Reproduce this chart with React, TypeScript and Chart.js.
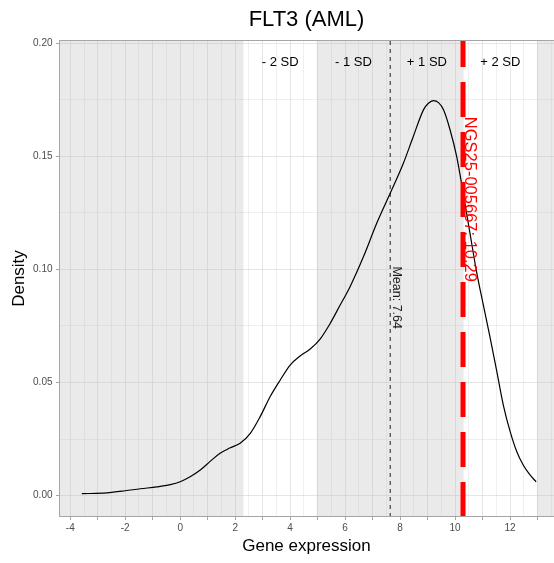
import React, { useEffect, useRef } from 'react';
import { Chart, registerables } from 'chart.js';

Chart.register(...registerables);

// ---- data ----
const densityX = [
  -3.58, -2.67, -2.0, -1.45, -0.85, -0.36, 0, 0.36, 0.73, 1.1, 1.45, 1.8, 2.18, 2.55, 2.91,
  3.27, 3.64, 4.0, 4.36, 4.73, 5.09, 5.45, 5.8, 6.18, 6.67, 7.15, 7.64, 8.12, 8.48, 8.85,
  9.03, 9.21, 9.4, 9.58, 9.82, 10.06, 10.3, 10.55, 10.79, 11.03, 11.27, 11.52, 11.76, 12.0,
  12.24, 12.48, 12.72, 12.95,
];
const densityY = [
  0.0008, 0.0012, 0.0021, 0.003, 0.0038, 0.0048, 0.0061, 0.0083, 0.0113, 0.0152, 0.0187,
  0.021, 0.0231, 0.0275, 0.0349, 0.0437, 0.0511, 0.0577, 0.0617, 0.0648, 0.0692, 0.076,
  0.0838, 0.0924, 0.1057, 0.1204, 0.1337, 0.147, 0.1588, 0.1706, 0.1735, 0.1747, 0.1738,
  0.1706, 0.1617, 0.1499, 0.1335, 0.1155, 0.0985, 0.0842, 0.0702, 0.0548, 0.0398, 0.0285,
  0.0196, 0.0135, 0.0092, 0.0061,
];

const meanValue = 7.64;
const sdValue = 2.67;
const sampleValue = 10.29;
const meanLabel = 'Mean: 7.64';
const sampleLabel = 'NGS25-005667: 10.29';
const sdLabels = ['- 2 SD', '- 1 SD', '+ 1 SD', '+ 2 SD'];
const sdLabelOffsets = [-1.5, -0.5, 0.5, 1.5];
const greyBandsSd = [
  [-Infinity, -2],
  [-1, 1],
  [2, Infinity],
];

const xMajorBreaks = [-4, -3, -2, -1, 0, 1, 2, 3, 4, 5, 6, 7, 8, 9, 10, 11, 12, 13];
const xMinorBreaks = [-3.5, -2.5, -1.5, -0.5, 0.5, 1.5, 2.5, 3.5, 4.5, 5.5, 6.5, 7.5, 8.5, 9.5, 10.5, 11.5, 12.5, 13.5];
const xLabelValues = [-4, -2, 0, 2, 4, 6, 8, 10, 12];
const yMajorBreaks = [0, 0.05, 0.1, 0.15, 0.2];
const yTickLabels = ['0.00', '0.05', '0.10', '0.15', '0.20'];
const yMinorBreaks = [0.025, 0.075, 0.125, 0.175];

const chartTitle = 'FLT3 (AML)';
const xTitle = 'Gene expression';
const yTitle = 'Density';

const xMin = -4.41;
const xMax = 13.6;
const yMin = -0.0095;
const yMax = 0.2015;

const FONT = '"Liberation Sans", Arial, Helvetica, sans-serif';

const isMember = (arr: number[], v: number) => arr.some((a) => Math.abs(a - v) < 1e-9);

const annotationPlugin = {
  id: 'annotations',
  beforeDatasetsDraw(chart: any) {
    const { ctx, chartArea: a, scales } = chart;
    const x = scales.x;
    ctx.save();
    ctx.beginPath();
    ctx.rect(a.left, a.top, a.right - a.left, a.bottom - a.top);
    ctx.clip();
    ctx.fillStyle = 'rgba(185,185,185,0.3)';
    for (const [s0, s1] of greyBandsSd) {
      const p0 = isFinite(s0) ? x.getPixelForValue(meanValue + s0 * sdValue) : a.left;
      const p1 = isFinite(s1) ? x.getPixelForValue(meanValue + s1 * sdValue) : a.right;
      ctx.fillRect(p0, a.top, p1 - p0, a.bottom - a.top);
    }
    // mean line
    const mx = x.getPixelForValue(meanValue);
    ctx.strokeStyle = '#222';
    ctx.lineWidth = 1;
    ctx.setLineDash([4, 4]);
    ctx.beginPath();
    ctx.moveTo(mx, a.bottom);
    ctx.lineTo(mx, a.top);
    ctx.stroke();
    ctx.restore();
  },
  afterDatasetsDraw(chart: any) {
    const { ctx, chartArea: a, scales } = chart;
    const x = scales.x;
    const y = scales.y;
    ctx.save();
    ctx.beginPath();
    ctx.rect(a.left, a.top, a.right - a.left, a.bottom - a.top);
    ctx.clip();
    // sample line
    const sx = x.getPixelForValue(sampleValue);
    ctx.strokeStyle = '#FF0000';
    ctx.lineWidth = 5;
    ctx.lineCap = 'butt';
    ctx.setLineDash([35, 15]);
    ctx.beginPath();
    ctx.moveTo(sx, a.bottom);
    ctx.lineTo(sx, a.top);
    ctx.stroke();
    ctx.setLineDash([]);

    // SD labels
    ctx.fillStyle = '#000';
    ctx.font = `13px ${FONT}`;
    ctx.textAlign = 'center';
    ctx.textBaseline = 'alphabetic';
    sdLabels.forEach((lab, i) => {
      const px = x.getPixelForValue(meanValue + sdLabelOffsets[i] * sdValue);
      ctx.fillText(lab, px, y.getPixelForValue(0.19));
    });

    // Mean label (rotated)
    const mx = x.getPixelForValue(meanValue);
    ctx.save();
    ctx.translate(mx + 3, y.getPixelForValue(0.0875));
    ctx.rotate(Math.PI / 2);
    ctx.font = `12.5px ${FONT}`;
    ctx.fillStyle = '#1a1a1a';
    ctx.textAlign = 'center';
    ctx.fillText(meanLabel, 0, 0);
    ctx.restore();

    // Sample label (rotated)
    ctx.save();
    ctx.translate(sx + 1.5, y.getPixelForValue(0.131));
    ctx.rotate(Math.PI / 2);
    ctx.font = `16.5px ${FONT}`;
    ctx.fillStyle = '#FF0000';
    ctx.textAlign = 'center';
    ctx.fillText(sampleLabel, 0, 0);
    ctx.restore();
    ctx.restore();

    // panel border
    ctx.save();
    ctx.strokeStyle = '#A6A6A6';
    ctx.lineWidth = 1;
    ctx.strokeRect(a.left + 0.5, a.top + 0.5, a.right - a.left, a.bottom - a.top - 1);
    ctx.restore();
  },
  afterDraw(chart: any) {
    const { ctx, chartArea: a } = chart;
    const cx = (a.left + a.right) / 2;
    ctx.save();
    ctx.fillStyle = '#000';
    ctx.textAlign = 'center';
    ctx.textBaseline = 'alphabetic';
    ctx.font = `22px ${FONT}`;
    ctx.fillText(chartTitle, cx, 26);
    ctx.font = `17px ${FONT}`;
    ctx.fillText(xTitle, cx, 551);
    ctx.save();
    ctx.translate(24, (a.top + a.bottom) / 2);
    ctx.rotate(-Math.PI / 2);
    ctx.fillText(yTitle, 0, 0);
    ctx.restore();
    ctx.restore();
  },
};

export default function App() {
  const canvasRef = useRef<HTMLCanvasElement | null>(null);

  useEffect(() => {
    const canvas = canvasRef.current;
    if (!canvas) return;
    const chart = new Chart(canvas, {
      type: 'line',
      data: {
        datasets: [
          {
            data: densityX.map((v, i) => ({ x: v, y: densityY[i] })),
            borderColor: '#000',
            borderWidth: 1.2,
            pointRadius: 0,
            fill: false,
            cubicInterpolationMode: 'monotone',
          },
        ],
      },
      options: {
        animation: false,
        responsive: false,
        devicePixelRatio: 1,
        layout: { padding: { top: 40, left: 0, right: 0, bottom: 0 } },
        plugins: {
          legend: { display: false },
          tooltip: { enabled: false },
          title: { display: false },
        },
        scales: {
          x: {
            type: 'linear',
            min: xMin,
            max: xMax,
            afterBuildTicks: (s: any) => {
              s.ticks = [...xMajorBreaks, ...xMinorBreaks]
                .sort((p, q) => p - q)
                .map((v) => ({ value: v }));
            },
            afterFit: (s: any) => {
              s.height = 46;
            },
            ticks: {
              autoSkip: false,
              maxRotation: 0,
              minRotation: 0,
              padding: 2,
              color: '#4D4D4D',
              font: { family: FONT, size: 10 },
              callback: (v: any) => (isMember(xLabelValues, Number(v)) ? String(v) : ''),
            },
            grid: {
              color: '#DEDEDE',
              lineWidth: (c: any) => (isMember(xMajorBreaks, c.tick?.value) ? 0.8 : 0.5),
              tickLength: 3,
              tickWidth: 1,
              tickColor: (c: any) => (isMember(xMajorBreaks, c.tick?.value) ? '#A6A6A6' : 'rgba(0,0,0,0)'),
            },
            border: { display: false },
          },
          y: {
            type: 'linear',
            min: yMin,
            max: yMax,
            afterBuildTicks: (s: any) => {
              s.ticks = [...yMajorBreaks, ...yMinorBreaks]
                .sort((p, q) => p - q)
                .map((v) => ({ value: v }));
            },
            afterFit: (s: any) => {
              s.width = 59;
            },
            ticks: {
              autoSkip: false,
              padding: 3.5,
              color: '#4D4D4D',
              font: { family: FONT, size: 10 },
              callback: (v: any) => {
                const idx = yMajorBreaks.findIndex((m) => Math.abs(m - Number(v)) < 1e-9);
                return idx >= 0 ? yTickLabels[idx] : '';
              },
            },
            grid: {
              color: '#DEDEDE',
              lineWidth: (c: any) => (isMember(yMajorBreaks, c.tick?.value) ? 0.8 : 0.5),
              tickLength: 3,
              tickWidth: 1,
              tickColor: (c: any) => (isMember(yMajorBreaks, c.tick?.value) ? '#A6A6A6' : 'rgba(0,0,0,0)'),
            },
            border: { display: false },
          },
        },
      },
      plugins: [annotationPlugin],
    } as any);
    return () => chart.destroy();
  }, []);

  return (
    <div style={{ position: 'fixed', left: 0, top: 0, width: 554, height: 563, background: '#fff' }}>
      <canvas ref={canvasRef} width={554} height={563} style={{ display: 'block', width: 554, height: 563 }} />
    </div>
  );
}
